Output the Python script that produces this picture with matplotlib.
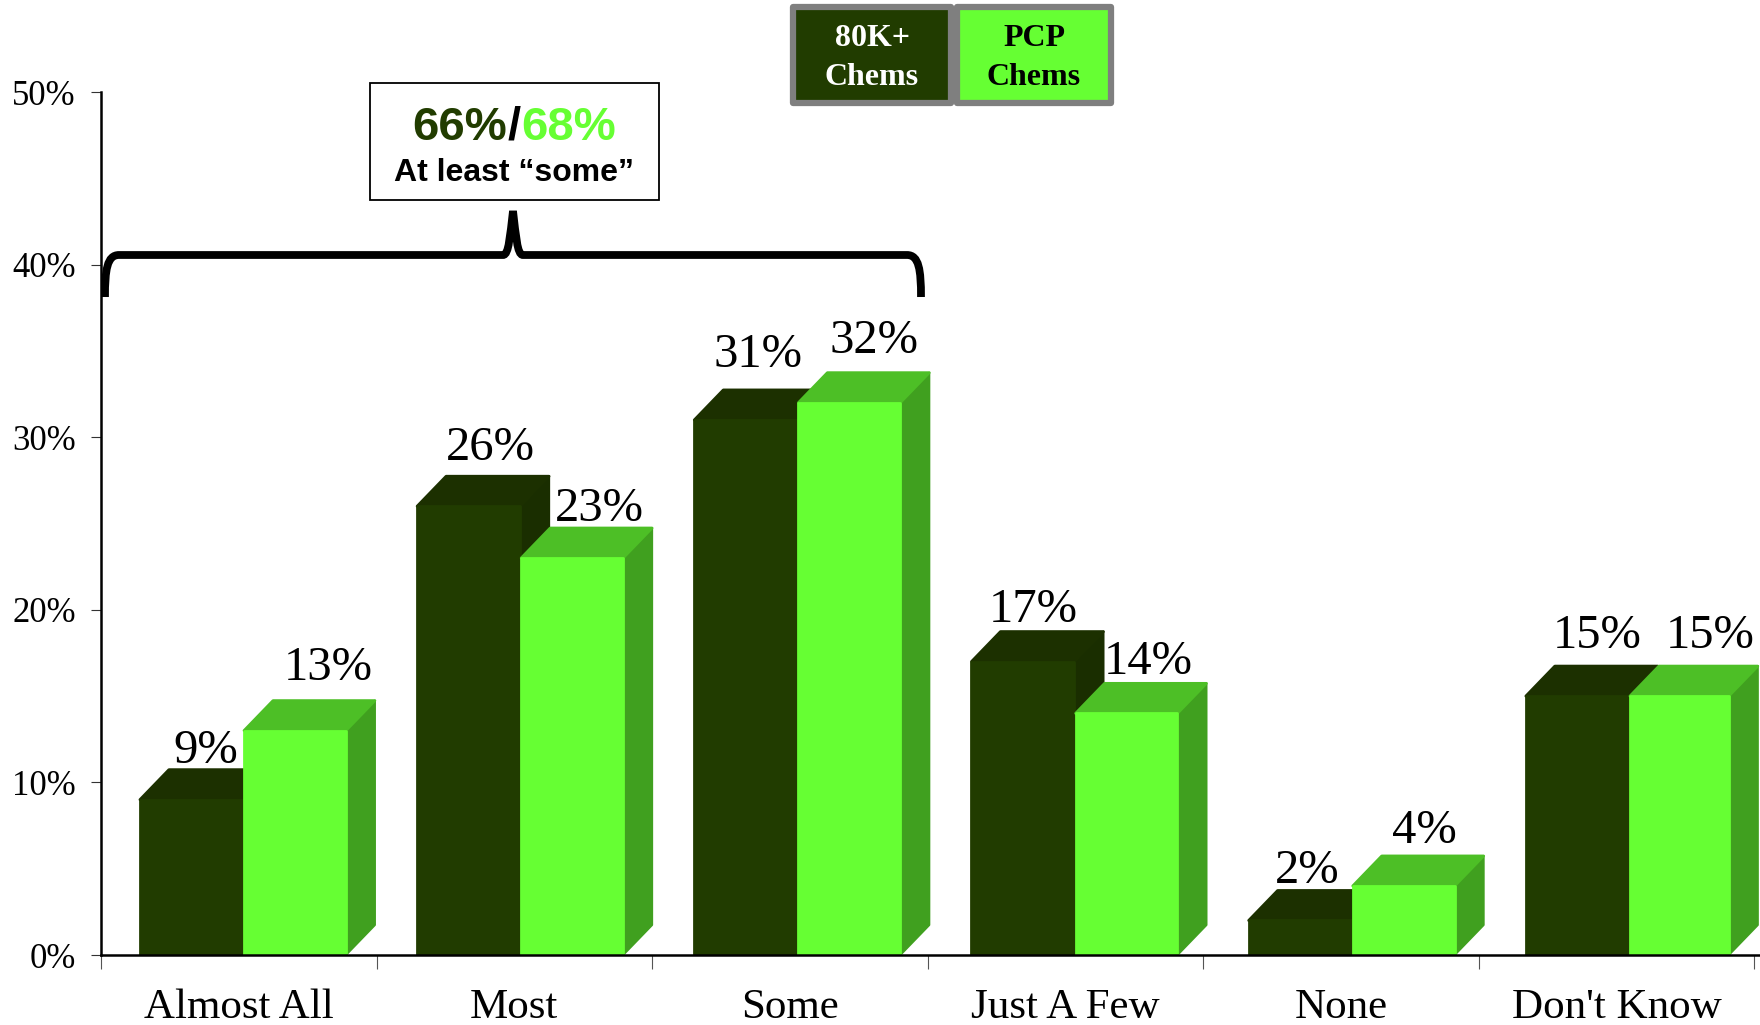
import matplotlib
matplotlib.use('Agg')
import matplotlib.pyplot as plt
from matplotlib.patches import Polygon, Rectangle, PathPatch
from matplotlib.path import Path
from matplotlib.transforms import Affine2D

categories = ['Almost All', 'Most', 'Some', 'Just A Few', 'None', "Don't Know"]
chems_80k = [9, 26, 31, 17, 2, 15]
pcp_chems = [13, 23, 32, 14, 4, 15]
y_ticks = [0, 10, 20, 30, 40, 50]

# label nudges in pixels, (x, gap above the bar's back edge)
dark_nudge = [(0, 7), (7, 16), (-2, 23), (-4, 10), (-7, 7), (5, 18)]
light_nudge = [(19, 21), (13, 7), (11, 20), (8, 9), (7, 13), (15, 18)]

W, H = 1760, 1025
DARK = ('#213c00', '#1c3000', '#1a2e00')
LIGHT = ('#66ff33', '#4dbf26', '#40a01f')
SERIF = 'Liberation Serif'
SANS = 'Liberation Sans'

fig = plt.figure(figsize=(W / 100, H / 100), dpi=100, facecolor='white')
ax = fig.add_axes([101 / W, (H - 955) / H, (W - 101) / W, 863 / H])
ax.set_xlim(0, 6.02)
ax.set_ylim(0, 50)

# pixel coordinates of the picture, y going down
px = Affine2D().scale(1, -1).translate(0, H)

bar_w = 103 / 275.6
dx = 29 / 275.6
dy = 30 / 17.26
step = 277.2 / 275.6


def draw_bar(x0, val, cols, z, width=bar_w):
    front, top, side = cols
    x1 = x0 + width
    ax.add_patch(Polygon([(x1, 0), (x1 + dx, dy), (x1 + dx, val + dy), (x1, val)],
                         fc=side, ec=side, lw=1.5, joinstyle='round', zorder=z))
    ax.add_patch(Polygon([(x0, val), (x0 + dx, val + dy), (x1 + dx, val + dy), (x1, val)],
                         fc=top, ec=top, lw=2, joinstyle='round', zorder=z))
    ax.bar(x0, val, width=width, align='edge', color=front, edgecolor=front,
           linewidth=2, joinstyle='round', zorder=z + 0.1)


def draw_label(x0, val, nudge):
    ax.annotate(f'{val}%', (x0 + bar_w / 2 + dx / 2, val + dy),
                xytext=(nudge[0] * 0.72, nudge[1] * 0.72), textcoords='offset points',
                ha='center', va='baseline', fontsize=35, family=SERIF, color='black',
                annotation_clip=False, zorder=9)


for i, cat in enumerate(categories):
    mid = 0.515 + i * step
    draw_bar(mid - bar_w, chems_80k[i], DARK, 3 + i)
    # the last light bar is a touch narrower in the original
    draw_bar(mid + 0.004, pcp_chems[i], LIGHT, 3.5 + i, bar_w - 0.004 if i < 5 else bar_w * 0.96)
    draw_label(mid - bar_w, chems_80k[i], dark_nudge[i])
    draw_label(mid, pcp_chems[i], light_nudge[i])

for s in ['top', 'right']:
    ax.spines[s].set_visible(False)
ax.spines['left'].set_linewidth(1.8)
ax.spines['bottom'].set_linewidth(1.8)
ax.spines['bottom'].set_zorder(20)
ax.patch.set_alpha(0)

ax.set_yticks(y_ticks)
ax.set_yticklabels([f'{v}%' for v in y_ticks], fontsize=25, family=SERIF)
ax.tick_params(axis='y', length=7, width=0.8, pad=11, color='#333333')
ax.set_xticks(range(7))
ax.set_xticklabels([])
ax.tick_params(axis='x', which='major', length=10, width=0.8, color='#555555')
ax.set_xticks([0.5 + i for i in range(6)], minor=True)
ax.set_xticklabels(categories, minor=True, fontsize=31, family=SERIF)
ax.tick_params(axis='x', which='minor', length=0, pad=24)

# legend boxes at the top
for (x0, x1, fc, tc, lines) in [(793, 951, DARK[0], 'white', '80K+\nChems'),
                                (957, 1111, LIGHT[0], 'black', 'PCP\nChems')]:
    fig.add_artist(Rectangle((x0, 7), x1 - x0, 96, fc=fc, ec='#7f7f7f', lw=4.5,
                             joinstyle='round', transform=px))
    fig.text((x0 + x1) / 2 / W, 1 - 58 / H, lines, ha='center', va='center', color=tc,
             fontsize=23, family=SERIF, weight='bold', linespacing=1.42)

# curly brace over the first three groups
L, R, M = 105, 921, 513
T, B, P = 255, 297, 211
verts = [(L, B), (L, 270), (L + 2, T), (L + 14, T),
         (M - 10, T), (M - 4, T), (M - 3, 235), (M, P),
         (M + 3, 235), (M + 4, T), (M + 10, T),
         (R - 14, T), (R - 2, T), (R, 270), (R, B)]
codes = [Path.MOVETO, Path.CURVE4, Path.CURVE4, Path.CURVE4,
         Path.LINETO, Path.CURVE4, Path.CURVE4, Path.CURVE4,
         Path.CURVE4, Path.CURVE4, Path.CURVE4,
         Path.LINETO, Path.CURVE4, Path.CURVE4, Path.CURVE4]
fig.add_artist(PathPatch(Path(verts, codes), fc='none', ec='black', lw=5.6,
                         capstyle='butt', transform=px))

# callout box
fig.add_artist(Rectangle((370, 83), 289, 117, fc='white', ec='black', lw=1.3, transform=px))
total_y = 1 - 140 / H
fig.text(507 / W, total_y, '66%', ha='right', va='baseline', color=DARK[0],
         fontsize=34, family=SANS, weight='bold')
fig.text(514 / W, total_y, '/', ha='center', va='baseline', color='black',
         fontsize=34, family=SANS, weight='bold')
fig.text(521 / W, total_y, '68%', ha='left', va='baseline', color=LIGHT[0],
         fontsize=34, family=SANS, weight='bold')
fig.text(514 / W, 1 - 173 / H, 'At least “some”', ha='center', va='center', color='black',
         fontsize=23, family=SANS, weight='bold')

fig.savefig('out.png', dpi=100)
